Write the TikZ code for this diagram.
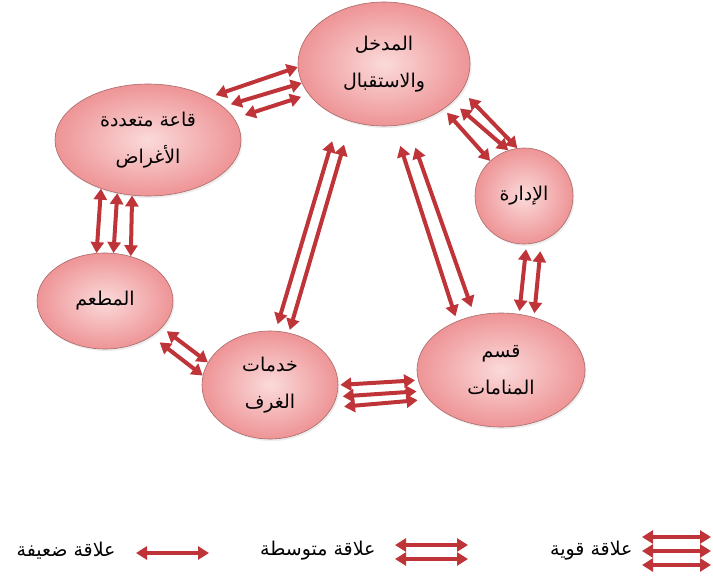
\documentclass[tikz,border=0pt]{standalone}
\usepackage{fontspec}
\usetikzlibrary{arrows.meta,shapes.geometric,shadows}
\TeXXeTstate=1
\newfontfamily\arabicfont[Script=Arabic]{DejaVu Sans}
\definecolor{relred}{RGB}{190,52,56}
\definecolor{unitedge}{RGB}{170,105,105}
\definecolor{unitpink}{RGB}{238,148,150}
\definecolor{unitlight}{RGB}{251,218,218}
\tikzset{
unit/.style = {draw=unitedge, ellipse, line width=0.6pt, shading=radial, inner color=unitlight, outer color=unitpink, align=center, inner sep=0pt, font=\arabicfont\fontsize{19}{37}\selectfont, drop shadow={opacity=0.15, shadow xshift=1.5pt, shadow yshift=-2pt}},
rel/.style = {<->, draw=relred, line width=4pt},
legtext/.style = {font=\arabicfont\fontsize{19}{20}\selectfont, anchor=east},
free/.style = {coordinate}
}

\begin{document}
\begin{tikzpicture}[x=1pt, y=-1pt, >={Triangle[length=11pt,width=13pt]}]
  \useasboundingbox (0,0) rectangle (713,578);

  \node [unit, minimum width=172pt, minimum height=124pt] (recep) at (384,64)  {\beginR المدخل\endR\\\beginR والاستقبال\endR};
  \node [unit, minimum width=186pt, minimum height=112pt] (hall)  at (148,140) {\beginR قاعة متعددة\endR\\\beginR الأغراض\endR};
  \node [unit, minimum width=98pt,  minimum height=96pt]  (admin) at (524,196) {\beginR الإدارة\endR};
  \node [unit, minimum width=136pt, minimum height=96pt]  (rest)  at (105,301) {\beginR المطعم\endR};
  \node [unit, minimum width=136pt, minimum height=108pt] (rooms) at (270,385) {\beginR خدمات\endR\\\beginR الغرف\endR};
  \node [unit, minimum width=168pt, minimum height=114pt] (dorms) at (501,370) {\beginR قسم\endR\\\beginR المنامات\endR};

  % hall - reception
  \draw [rel, shorten <=7pt] (hall.35) -- (recep.182);
  \draw [rel, shorten <=8pt] (hall.24) -- (recep.193);
  \draw [rel, shorten <=11pt, shorten >=8pt] (hall.14) -- (recep.202);
  % reception - administration
  \draw [rel, shorten <=5pt] (recep.-37) -- (admin.134);
  \draw [rel, shorten <=10pt] (recep.-29) -- (admin.109);
  \draw [rel, shorten <=10pt] (recep.-19) -- (admin.98);
  % administration - dorms
  \draw [rel, shorten <=5pt, shorten >=3pt] (admin.-87) -- (dorms.72);
  \draw [rel, shorten <=10pt, shorten >=4pt] (admin.-69) -- (dorms.58);
  % reception - dorms
  \draw [rel, shorten <=21pt, shorten >=5pt] (recep.-81) -- (dorms.132);
  \draw [rel, shorten <=25pt, shorten >=9pt] (recep.-69) -- (dorms.116);
  % reception - room services
  \draw [rel, shorten <=25pt, shorten >=7pt] (recep.230) -- (rooms.84);
  \draw [rel, shorten <=24pt, shorten >=3pt] (recep.240) -- (rooms.70);
  % hall - restaurant
  \draw [rel] (hall.226) -- (rest.100);
  \draw [rel] (hall.240) -- (rest.80);
  \draw [rel] (hall.254) -- (rest.60);
  % restaurant - room services
  \draw [rel, shorten <=6pt] (rest.-25) -- (rooms.160);
  \draw [rel, shorten <=10pt] (rest.-37) -- (rooms.172);
  % room services - dorms
  \draw [rel, shorten <=2pt, shorten >=3pt] (rooms.0) -- (dorms.187);
  \draw [rel, shorten <=6pt, shorten >=6pt] (rooms.-10) -- (dorms.195);
  \draw [rel, shorten <=12pt, shorten >=11pt] (rooms.-20) -- (dorms.202);

  % legend
  \node [legtext] (weaktxt)   at (119,551) {\beginR علاقة ضعيفة\endR};
  \node [legtext] (mediumtxt) at (379,551) {\beginR علاقة متوسطة\endR};
  \node [legtext] (strongtxt) at (636,551) {\beginR علاقة قوية\endR};
  \node [free] (weakl)   at (136,553) {};
  \node [free] (weakr)   at (209,553) {};
  \node [free] (mediuml) at (395,552) {};
  \node [free] (mediumr) at (468,552) {};
  \node [free] (strongl) at (642,551) {};
  \node [free] (strongr) at (711,551) {};

  \draw [rel] (weakl) -- (weakr);
  \draw [rel] ([yshift=7pt]mediuml) -- ([yshift=7pt]mediumr);
  \draw [rel] ([yshift=-7pt]mediuml) -- ([yshift=-7pt]mediumr);
  \draw [rel] ([yshift=14pt]strongl) -- ([yshift=14pt]strongr);
  \draw [rel] (strongl) -- (strongr);
  \draw [rel] ([yshift=-14pt]strongl) -- ([yshift=-14pt]strongr);
\end{tikzpicture}
\end{document}
